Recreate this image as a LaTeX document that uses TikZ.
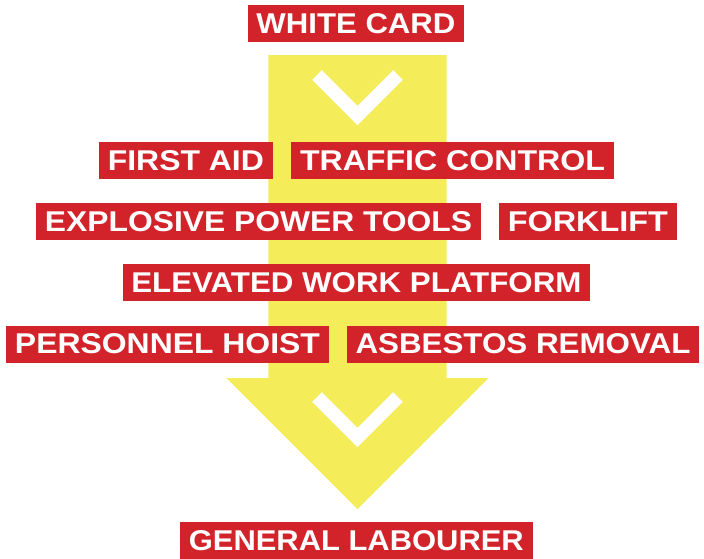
\documentclass[tikz,border=0pt]{standalone}
\usepackage{fontspec}
\usepackage{graphicx}
\setmainfont{Liberation Sans}
\definecolor{cardred}{RGB}{211,35,42}
\definecolor{arrowyellow}{RGB}{245,236,90}
\newcommand\cardtext[2]{\resizebox{#1pt}{\height}{#2}}
\tikzset{
  card/.style={fill=cardred, text=white, inner sep=0pt, minimum height=37pt,
    font=\fontsize{28.6}{30}\selectfont\bfseries, anchor=center},
  chevron/.style={draw=white, line width=13.5pt, line join=miter, line cap=butt},
  bigarrow/.style={fill=arrowyellow}
}
\begin{document}
\begin{tikzpicture}[x=1pt,y=-1pt]
\useasboundingbox (0,0) rectangle (704,558);
% yellow arrow
\fill[bigarrow] (268.3,55) -- (446.7,55) -- (446.7,378) -- (488.5,378)
  -- (357.5,509) -- (226.5,378) -- (268.3,378) -- cycle;
% chevrons
\draw[chevron] (317,75) -- (357.5,115.5) -- (398,75);
\draw[chevron] (317,397) -- (357.5,437.5) -- (398,397);
% cards
\node[card, minimum width=216pt] (white) at (356,23.5) {\cardtext{199}{WHITE CARD}};
\node[card, minimum width=173.7pt] (firstaid) at (185.85,160.4) {\cardtext{156}{FIRST AID}};
\node[card, minimum width=323pt] (traffic) at (452.5,160.4) {\cardtext{305}{TRAFFIC CONTROL}};
\node[card, minimum width=445pt] (explosive) at (258.5,221.7) {\cardtext{427}{EXPLOSIVE POWER TOOLS}};
\node[card, minimum width=177.7pt] (forklift) at (587.85,221.7) {\cardtext{160}{FORKLIFT}};
\node[card, minimum width=467.3pt] (ewp) at (356.35,282.5) {\cardtext{450}{ELEVATED WORK PLATFORM}};
\node[card, minimum width=323pt] (hoist) at (167.5,344) {\cardtext{305}{PERSONNEL HOIST}};
\node[card, minimum width=352.6pt] (asbestos) at (523,344) {\cardtext{335}{ASBESTOS REMOVAL}};
\node[card, minimum width=352.7pt] (labourer) at (356.35,540.2) {\cardtext{335}{GENERAL LABOURER}};
\end{tikzpicture}
\end{document}
